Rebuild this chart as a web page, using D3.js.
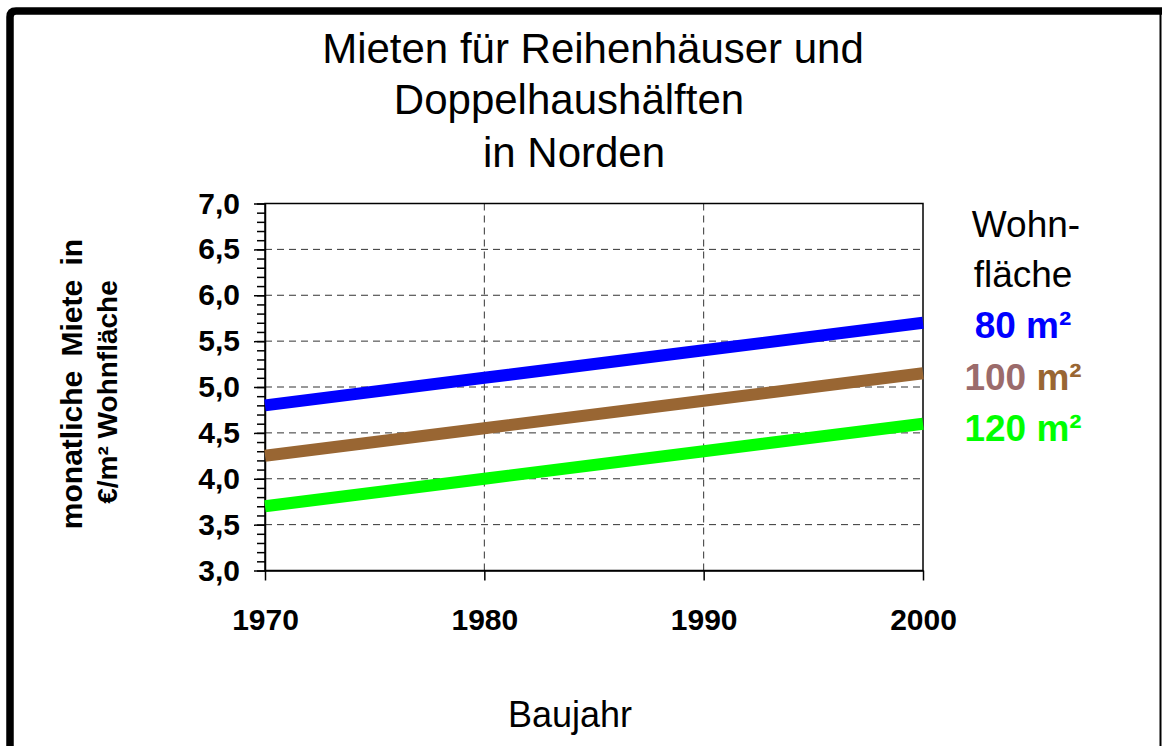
<!DOCTYPE html>
<html lang="de">
<head>
<meta charset="utf-8">
<title>Mieten für Reihenhäuser und Doppelhaushälften</title>
<script src="https://cdn.jsdelivr.net/npm/d3@7"></script>
<style>
  body { margin: 0; background: #fff; }
  svg { display: block; font-family: Arial, "Liberation Sans", sans-serif; }
</style>
</head>
<body>
<script>
// data
var years = [1970, 1980, 1990, 2000];
var miete80 = [4.8, 5.1, 5.4, 5.7];
var miete100 = [4.25, 4.55, 4.85, 5.15];
var miete120 = [3.7, 4.0, 4.3, 4.6];
var yMajor = [3.0, 3.5, 4.0, 4.5, 5.0, 5.5, 6.0, 6.5, 7.0];
var titleLines = ["Mieten für Reihenhäuser und", "Doppelhaushälften", "in Norden"];

var width = 1162, height = 746;

var svg = d3.select("body").append("svg")
  .attr("width", width)
  .attr("height", height);

// outer frame
svg.append("path")
  .attr("d", "M10,746 V17 Q10,11 16,11 H1162")
  .attr("fill", "none")
  .attr("stroke", "#000")
  .attr("stroke-width", 7.5);
svg.append("line")
  .attr("x1", 1160.5).attr("x2", 1160.5)
  .attr("y1", 11).attr("y2", 746)
  .attr("stroke", "#000")
  .attr("stroke-width", 2);

// title
var titlePos = [[593, 63], [569, 114], [574, 167]];
svg.selectAll("text.title")
  .data(titleLines)
  .enter().append("text")
  .attr("class", "title")
  .attr("x", function (d, i) { return titlePos[i][0]; })
  .attr("y", function (d, i) { return titlePos[i][1]; })
  .attr("text-anchor", "middle")
  .attr("font-size", 42)
  .text(function (d) { return d; });

var plotLeft = 265, plotRight = 923, plotTop = 203.5, plotBottom = 570.5;

var x = d3.scaleLinear().domain([1970, 2000]).range([plotLeft, plotRight]);
var y = d3.scaleLinear().domain([3, 7]).range([plotBottom, plotTop]);

var comma = function (v) { return d3.format(".1f")(v).replace(".", ","); };

// gridlines
svg.append("g").selectAll("line")
  .data(yMajor.filter(function (v) { return v > 3 && v < 7; }))
  .enter().append("line")
  .attr("x1", plotLeft).attr("x2", plotRight)
  .attr("y1", function (d) { return y(d); })
  .attr("y2", function (d) { return y(d); })
  .attr("stroke", "#333")
  .attr("stroke-width", 1)
  .attr("stroke-dasharray", "7,5");

svg.append("g").selectAll("line")
  .data(years.slice(1, 3))
  .enter().append("line")
  .attr("x1", function (d) { return x(d); })
  .attr("x2", function (d) { return x(d); })
  .attr("y1", plotTop).attr("y2", plotBottom)
  .attr("stroke", "#333")
  .attr("stroke-width", 1)
  .attr("stroke-dasharray", "7,5");

// plot frame
svg.append("rect")
  .attr("x", plotLeft).attr("y", plotTop)
  .attr("width", plotRight - plotLeft).attr("height", plotBottom - plotTop)
  .attr("fill", "none")
  .attr("stroke", "#000")
  .attr("stroke-width", 1.5);

// y axis: minor ticks every 0.1
var yMinor = d3.range(30, 71).map(function (v) { return v / 10; });
svg.append("g")
  .attr("transform", "translate(" + plotLeft + ",0)")
  .call(d3.axisLeft(y).tickValues(yMinor).tickSize(8).tickSizeOuter(0).tickFormat(""))
  .call(function (g) { g.select(".domain").remove(); })
  .selectAll("line").attr("stroke-width", 1.5);

var yAxis = svg.append("g")
  .attr("transform", "translate(" + plotLeft + ",0)")
  .call(d3.axisLeft(y).tickValues(yMajor).tickSize(11).tickPadding(14).tickSizeOuter(0).tickFormat(comma));
yAxis.select(".domain").attr("stroke-width", 1.5);
yAxis.selectAll("line").attr("stroke-width", 1.5);
yAxis.selectAll("text")
  .attr("font-size", 30)
  .attr("font-weight", "bold")
  .attr("font-family", "Arial, 'Liberation Sans', sans-serif")
  .attr("fill", "#000");

// x axis
var xAxis = svg.append("g")
  .attr("transform", "translate(0," + plotBottom + ")")
  .call(d3.axisBottom(x).tickValues(years).tickSize(10).tickSizeOuter(0).tickFormat(d3.format("d")));
xAxis.select(".domain").attr("stroke-width", 1.5);
xAxis.selectAll("line").attr("stroke-width", 1.5);
xAxis.selectAll("text")
  .attr("y", 59)
  .attr("dy", null)
  .attr("font-size", 30)
  .attr("font-weight", "bold")
  .attr("font-family", "Arial, 'Liberation Sans', sans-serif")
  .attr("fill", "#000");

// series lines
var series = [
  { name: "80", values: miete80, color: "#0000ff" },
  { name: "100", values: miete100, color: "#996633" },
  { name: "120", values: miete120, color: "#00ff00" }
];

var line = d3.line()
  .x(function (d, i) { return x(years[i]); })
  .y(function (d) { return y(d); });

svg.append("g").selectAll("path")
  .data(series)
  .enter().append("path")
  .attr("d", function (d) { return line(d.values); })
  .attr("fill", "none")
  .attr("stroke", function (d) { return d.color; })
  .attr("stroke-width", 12);

// axis titles
var yTitle = svg.append("text")
  .attr("transform", "translate(82,384) rotate(-90)")
  .attr("text-anchor", "middle")
  .attr("font-size", 30)
  .attr("font-weight", "bold");
yTitle.append("tspan").attr("x", 0).attr("y", 0)
  .attr("word-spacing", 6).text("monatliche Miete in");
yTitle.append("tspan").attr("x", -8).attr("y", 35)
  .attr("font-size", 28).text("€/m² Wohnfläche");

svg.append("text")
  .attr("x", 570)
  .attr("y", 727)
  .attr("text-anchor", "middle")
  .attr("font-size", 36)
  .text("Baujahr");

// legend
var lx = 1023;
svg.append("text").attr("x", lx + 3).attr("y", 237).attr("text-anchor", "middle")
  .attr("font-size", 37).text("Wohn-");
svg.append("text").attr("x", lx).attr("y", 287).attr("text-anchor", "middle")
  .attr("font-size", 37).text("fläche");

var leg80 = svg.append("text").attr("x", lx).attr("y", 338).attr("text-anchor", "middle")
  .attr("font-size", 37).attr("font-weight", "bold").attr("fill", "#0000ff");
leg80.text("80 m²");

var leg100 = svg.append("text").attr("x", lx).attr("y", 390).attr("text-anchor", "middle")
  .attr("font-size", 37).attr("font-weight", "bold");
leg100.append("tspan").attr("fill", "#9b6b6b").text("100 ");
leg100.append("tspan").attr("fill", "#996633").text("m²");

var leg120 = svg.append("text").attr("x", lx).attr("y", 441).attr("text-anchor", "middle")
  .attr("font-size", 37).attr("font-weight", "bold").attr("fill", "#00ff00");
leg120.text("120 m²");
</script>
</body>
</html>
